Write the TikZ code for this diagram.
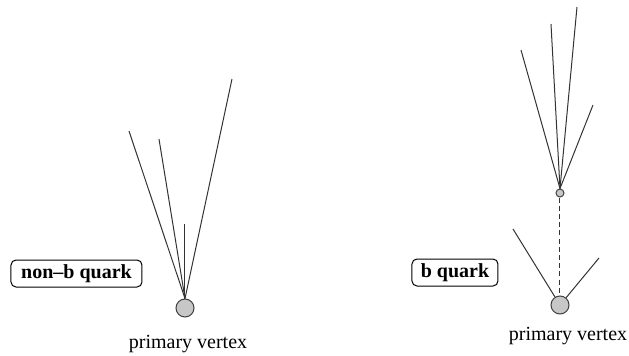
\documentclass[tikz,border=0pt]{standalone}
\usepackage{fontspec}
\setmainfont{Liberation Serif}
\begin{document}
\begin{tikzpicture}[x=0.5pt,y=-0.5pt,
  track/.style={draw=black!80,line width=0.5pt},
  vtx/.style={circle,draw=black!75,fill=black!22,line width=0.5pt,inner sep=0pt,minimum size=9pt},
  svtx/.style={circle,draw=black!75,fill=black!22,line width=0.5pt,inner sep=0pt,minimum size=4pt},
  quarkbox/.style={draw=black,rounded corners=2.5pt,line width=0.5pt,font=\bfseries,inner sep=0pt,minimum height=13.5pt},
  lbl/.style={font=\rmfamily,inner sep=0pt}]
\useasboundingbox (0,0) rectangle (629,355);
% left: non-b quark
\node[vtx] (pv1) at (185,308) {};
\coordinate (l1) at (129,131);
\coordinate (l2) at (159,139);
\coordinate (l3) at (185,224);
\coordinate (l4) at (232,79);
\foreach \e in {l1,l2,l3,l4} \draw[track] (pv1.north) -- (\e);
\node[quarkbox,minimum width=65.5pt] (nb) at (76.5,273.5) {non\textendash b quark};
\node[lbl] (pl1) at (188,344) {primary vertex};
% right: b quark
\node[vtx] (pv2) at (560,305) {};
\node[svtx] (sv) at (560,193) {};
\coordinate (r1) at (521,50);
\coordinate (r2) at (551,24);
\coordinate (r3) at (577,7);
\coordinate (r4) at (593,105);
\foreach \e in {r1,r2,r3,r4} \draw[track] (sv.north) -- (\e);
\draw[track,dash pattern=on 2.5pt off 1.6pt] (sv.south) -- (pv2.north);
\coordinate (p1) at (513,229);
\coordinate (p2) at (599,258);
\draw[track] (pv2.122) -- (p1);
\draw[track] (pv2.50) -- (p2);
\node[quarkbox,minimum width=43pt] (bq) at (455,272.5) {b quark};
\node[lbl] (pl2) at (568,336.5) {primary vertex};
\end{tikzpicture}
\end{document}
